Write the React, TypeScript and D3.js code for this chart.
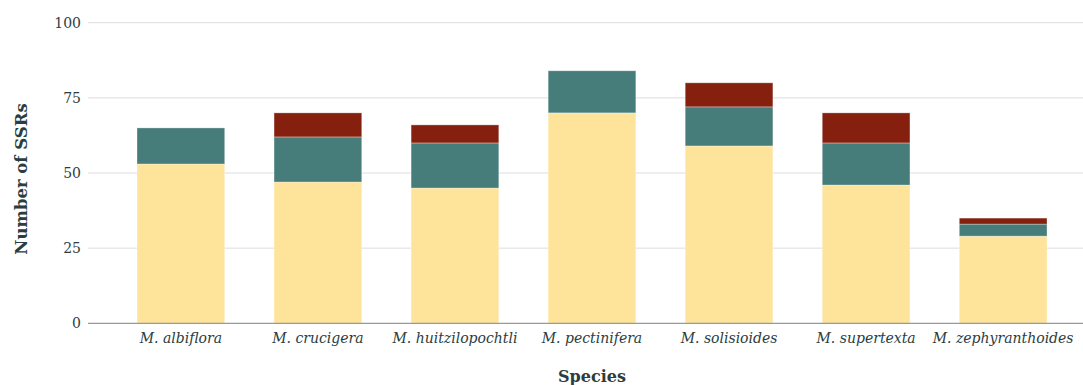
import React from "react";
import * as d3 from "d3";

const species = [
  "M. albiflora",
  "M. crucigera",
  "M. huitzilopochtli",
  "M. pectinifera",
  "M. solisioides",
  "M. supertexta",
  "M. zephyranthoides",
];
const seriesA = [53, 47, 45, 70, 59, 46, 29];
const seriesB = [12, 15, 15, 14, 13, 14, 4];
const seriesC = [0, 8, 6, 0, 8, 10, 2];
const seriesKeys = ["a", "b", "c"];
const seriesColors = ["#fee39b", "#467c7a", "#86200e"];
const yTicks = [0, 25, 50, 75, 100];

const W = 1083;
const H = 385;
const plotLeft = 88;
const plotRight = 1083;
const plotTop = 22.7;
const plotBottom = 323.3;
const textColor = "#2b3d40";
const font = "'DejaVu Serif', serif";

export default function App() {
  const rows = species.map((s, i) => ({ species: s, a: seriesA[i], b: seriesB[i], c: seriesC[i] }));
  const stack = d3.stack<any>().keys(seriesKeys)(rows);
  const x = d3.scaleBand().domain(species).range([137, 1047]).paddingInner(0.36).paddingOuter(0);
  const y = d3.scaleLinear().domain([0, 100]).range([plotBottom, plotTop]);

  return (
    <svg width={W} height={H} style={{ position: "absolute", left: 0, top: 0 }}>
      {yTicks.map((t) => (
        <g key={t}>
          {t !== 0 && (
            <line x1={plotLeft} x2={plotRight} y1={y(t)} y2={y(t)} stroke="#dddddd" strokeWidth={1} />
          )}
          <text
            x={81}
            y={y(t)}
            dy="0.35em"
            textAnchor="end"
            fontFamily={font}
            fontSize={14}
            fill={textColor}
          >
            {t}
          </text>
        </g>
      ))}
      {stack.map((layer, li) => (
        <g key={li} fill={seriesColors[li]}>
          {layer.map((d, i) =>
            d[1] - d[0] > 0 ? (
              <rect
                key={i}
                x={x(species[i])}
                width={x.bandwidth()}
                y={y(d[1])}
                height={y(d[0]) - y(d[1])}
                stroke="#ffffff"
                strokeOpacity={0.4}
                strokeWidth={0.8}
              />
            ) : null
          )}
        </g>
      ))}
      <line x1={plotLeft} x2={plotRight} y1={plotBottom} y2={plotBottom} stroke="#999999" strokeWidth={1.2} />
      {species.map((s) => (
        <text
          key={s}
          x={(x(s) as number) + x.bandwidth() / 2}
          y={343}
          textAnchor="middle"
          fontFamily={font}
          fontStyle="italic"
          fontSize={14}
          fill={textColor}
        >
          {s}
        </text>
      ))}
      <text
        x={592}
        y={382}
        textAnchor="middle"
        fontFamily={font}
        fontWeight="bold"
        fontSize={16}
        fill={textColor}
      >
        Species
      </text>
      <text
        transform={`translate(27, ${(plotTop + plotBottom) / 2 + 6}) rotate(-90)`}
        textAnchor="middle"
        fontFamily={font}
        fontWeight="bold"
        fontSize={16.5}
        fill={textColor}
      >
        Number of SSRs
      </text>
    </svg>
  );
}
